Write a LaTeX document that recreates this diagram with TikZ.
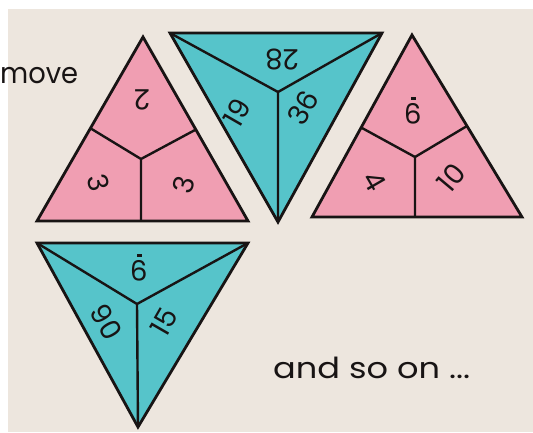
\documentclass[tikz,border=0pt]{standalone}
\usepackage{fontspec}
\usepackage{graphicx}
\setmainfont{Poppins}
\definecolor{paper}{RGB}{237,230,222}
\definecolor{pinkf}{RGB}{240,158,178}
\definecolor{tealf}{RGB}{86,196,202}
\definecolor{ink}{RGB}{24,20,20}
\newcommand{\nineu}{\ooalign{9\cr\hidewidth\rule[-6.5pt]{5pt}{2.6pt}\hidewidth\cr}}
\tikzset{
  piece/.style={draw=ink, line width=2.8pt, line join=miter},
  divider/.style={draw=ink, line width=2.4pt},
  num/.style={font=\fontsize{28}{28}\selectfont, text=ink, inner sep=0pt},
  words/.style={font=\fontsize{29}{29}\selectfont, text=ink, inner sep=0pt, anchor=base west}
}
\begin{document}
\begin{tikzpicture}[x=1pt,y=-1pt]
\useasboundingbox (0,0) rectangle (533,432);
\fill[white] (0,0) rectangle (533,432);
\fill[paper] (8,9) rectangle (533,432);

% triangle 1 (pink, up)
\coordinate (t1a) at (143,37);
\coordinate (t1l) at (37,221);
\coordinate (t1r) at (248,221);
\coordinate (t1c) at (141,159);
\coordinate (t1ml) at (90,128);
\coordinate (t1mr) at (195,130);
\coordinate (t1mb) at (141,221);
\fill[pinkf] (t1a) -- (t1l) -- (t1r) -- cycle;
\draw[divider] (t1ml) -- (t1c) -- (t1mr) (t1c) -- (t1mb);
\draw[piece] (t1a) -- (t1l) -- (t1r) -- cycle;
\node[num, rotate=180] (n2) at (142,100) {2};
\node[num, rotate=-75] (n3a) at (99,183) {3};
\node[num, rotate=75] (n3b) at (184,185) {3};

% triangle 2 (teal, down)
\coordinate (t2l) at (170,33);
\coordinate (t2r) at (382,33);
\coordinate (t2b) at (278,222);
\coordinate (t2c) at (278,92);
\fill[tealf] (t2l) -- (t2r) -- (t2b) -- cycle;
\draw[divider] (t2l) -- (t2c) -- (t2r) (t2c) -- (t2b);
\draw[piece] (t2l) -- (t2r) -- (t2b) -- cycle;
\node[num, rotate=180] (n28) at (282,60) {28};
\node[num, rotate=60] (n19) at (237,113) {19};
\node[num, rotate=60] (n36) at (303,108) {36};

% triangle 3 (pink, up)
\coordinate (t3a) at (412,35);
\coordinate (t3l) at (312,217);
\coordinate (t3r) at (522,217);
\coordinate (t3c) at (415,157);
\coordinate (t3ml) at (362,128);
\coordinate (t3mr) at (467,126);
\coordinate (t3mb) at (415,217);
\fill[pinkf] (t3a) -- (t3l) -- (t3r) -- cycle;
\draw[divider] (t3ml) -- (t3c) -- (t3mr) (t3c) -- (t3mb);
\draw[piece] (t3a) -- (t3l) -- (t3r) -- cycle;
\node[num, rotate=180] (n9a) at (413,111) {\nineu};
\node[num, rotate=-60] (n4) at (375,181) {4};
\node[num, rotate=50] (n10) at (451,178) {10};

% triangle 4 (teal, down)
\coordinate (t4l) at (37,243);
\coordinate (t4r) at (248,243);
\coordinate (t4b) at (138,427);
\coordinate (t4c) at (137,304);
\fill[tealf] (t4l) -- (t4r) -- (t4b) -- cycle;
\draw[divider] (t4l) -- (t4c) -- (t4r) (t4c) -- (t4b);
\draw[piece] (t4l) -- (t4r) -- (t4b) -- cycle;
\node[num, rotate=180] (n9b) at (139,268) {\nineu};
\node[num, rotate=-60] (n90) at (106,322) {90};
\node[num, rotate=60] (n15) at (164,322) {15};

% words
\node[words] (move) at (0,83) {\resizebox{78pt}{\height}{move}};
\node[words] (andso) at (273,378) {\resizebox{197pt}{\height}{and so on ...}};
\end{tikzpicture}
\end{document}
